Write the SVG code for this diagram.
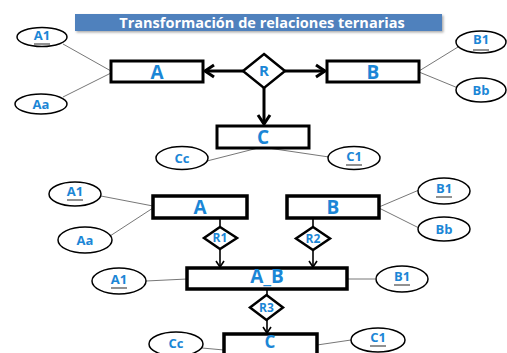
<svg xmlns="http://www.w3.org/2000/svg" width="507" height="353" viewBox="0 0 507 353">
<defs>
<marker id="big" markerUnits="userSpaceOnUse" markerWidth="14" markerHeight="16" refX="11" refY="8" orient="auto">
<path d="M2,2 L11,8 L2,14" fill="none" stroke="#000" stroke-width="3" stroke-linejoin="miter"/>
</marker>
<marker id="small" markerUnits="userSpaceOnUse" markerWidth="10" markerHeight="10" refX="7" refY="5" orient="auto">
<path d="M1,1 L7,5 L1,9" fill="none" stroke="#000" stroke-width="1.6"/>
</marker>
<filter id="sh" x="-5%" y="-20%" width="110%" height="160%"><feDropShadow dx="1.5" dy="1.5" stdDeviation="1" flood-color="#888" flood-opacity="0.7"/></filter>
</defs>
<style>
.ent{fill:#fff;stroke:#000;stroke-width:3}
.ent2{fill:#fff;stroke:#000;stroke-width:3.5}
.rel{fill:#fff;stroke:#000;stroke-width:2.5;stroke-linejoin:miter}
.att{fill:#fff;stroke:#000;stroke-width:1.5}
.lnk{stroke:#777;stroke-width:1;fill:none}
.arw{stroke:#000;stroke-width:3;fill:none}
.arw2{stroke:#000;stroke-width:1.6;fill:none}
.t{font-family:"Open Sans","DejaVu Sans",sans-serif;font-weight:bold;fill:#1b86d6;text-anchor:middle;dominant-baseline:central}
.te{font-size:19px}
.ta{font-size:13px}
.tr{font-size:12px}
.ul{stroke:#555;stroke-width:1.3}
</style>
<rect width="507" height="353" fill="#fff"/>
<g id="title">
<rect x="75" y="14" width="367" height="17" fill="#4f81bd" filter="url(#sh)"/>
<text x="262" y="22" font-family="'Open Sans','DejaVu Sans',sans-serif" font-weight="bold" font-size="14.5" fill="#fff" text-anchor="middle" dominant-baseline="central">Transformación de relaciones ternarias</text>
</g>
<g id="connectors">
<line class="lnk" x1="63" y1="44" x2="111" y2="71"/>
<line class="lnk" x1="63" y1="97" x2="111" y2="73"/>
<line class="lnk" x1="419" y1="71" x2="458" y2="47"/>
<line class="lnk" x1="419" y1="72" x2="458" y2="88"/>
<line class="lnk" x1="207" y1="161" x2="258" y2="148"/>
<line class="lnk" x1="329" y1="157" x2="268" y2="148"/>
<line class="arw" x1="243" y1="71" x2="205" y2="71" marker-end="url(#big)"/>
<line class="arw" x1="285" y1="71" x2="325" y2="71" marker-end="url(#big)"/>
<line class="arw" x1="264" y1="88" x2="264" y2="124" marker-end="url(#big)"/>
<line class="lnk" x1="101" y1="196" x2="153" y2="206"/>
<line class="lnk" x1="110" y1="236" x2="153" y2="208"/>
<line class="lnk" x1="379" y1="207" x2="419" y2="190"/>
<line class="lnk" x1="379" y1="208" x2="419" y2="228"/>
<line class="lnk" x1="146" y1="281" x2="187" y2="279"/>
<line class="lnk" x1="347" y1="279" x2="375" y2="279"/>
<line class="lnk" x1="202" y1="348" x2="224" y2="350"/>
<line class="lnk" x1="317" y1="345" x2="351" y2="340"/>
<line class="arw2" x1="220" y1="218" x2="220" y2="227"/>
<line class="arw2" x1="220" y1="249" x2="220" y2="267" marker-end="url(#small)"/>
<line class="arw2" x1="313" y1="218" x2="313" y2="227"/>
<line class="arw2" x1="313" y1="250" x2="313" y2="267" marker-end="url(#small)"/>
<line class="arw2" x1="267" y1="289" x2="267" y2="295"/>
<line class="arw2" x1="267" y1="320" x2="267" y2="333" marker-end="url(#small)"/>
</g>
<g id="A"><rect class="ent" x="111" y="61" width="92" height="21"/><text class="t te" x="157" y="72">A</text></g>
<g id="B"><rect class="ent" x="327" y="61" width="92" height="21"/><text class="t te" x="373" y="72">B</text></g>
<g id="C"><rect class="ent" x="217" y="126" width="92" height="22"/><text class="t te" x="263" y="137">C</text></g>
<g id="R"><polygon class="rel" points="264,54 285,71 264,88 243,71"/><text class="t" font-size="15" x="264" y="70">R</text></g>
<g id="A1a"><ellipse class="att" cx="42" cy="37" rx="25" ry="9.5"/><text class="t ta" x="42" y="35">A1</text><line class="ul" x1="34" y1="44" x2="50" y2="44"/></g>
<g id="Aaa"><ellipse class="att" cx="41" cy="104" rx="26" ry="10"/><text class="t ta" x="41" y="104">Aa</text></g>
<g id="B1a"><ellipse class="att" cx="481" cy="42" rx="25" ry="11"/><text class="t ta" x="481" y="39">B1</text><line class="ul" x1="473" y1="50" x2="489" y2="50"/></g>
<g id="Bba"><ellipse class="att" cx="481" cy="90" rx="25" ry="12"/><text class="t ta" x="481" y="90">Bb</text></g>
<g id="Cca"><ellipse class="att" cx="182" cy="158" rx="26" ry="11.5"/><text class="t ta" x="182" y="158">Cc</text></g>
<g id="C1a"><ellipse class="att" cx="354" cy="158" rx="26" ry="11.5"/><text class="t ta" x="354" y="156">C1</text><line class="ul" x1="346" y1="165" x2="362" y2="165"/></g>
<g id="A2"><rect class="ent2" x="153" y="196" width="94" height="22"/><text class="t te" x="200" y="207">A</text></g>
<g id="B2"><rect class="ent2" x="287" y="196" width="92" height="22"/><text class="t te" x="333" y="207">B</text></g>
<g id="R1"><polygon class="rel" points="220,227 237,238 220,249 204,238"/><text class="t tr" x="220" y="237">R1</text></g>
<g id="R2"><polygon class="rel" points="313,227 330,238.5 313,250 296,238.5"/><text class="t tr" x="313" y="238">R2</text></g>
<g id="AB"><rect class="ent2" x="187" y="268" width="160" height="21"/><text class="t te" x="267" y="276">A_B</text></g>
<g id="R3"><polygon class="rel" points="266.5,295 283,307.5 266.5,320 250,307.5"/><text class="t tr" x="266.5" y="307">R3</text></g>
<g id="C2"><rect class="ent2" x="224" y="334" width="93" height="24"/><text class="t" font-size="17" x="270" y="341.5">C</text></g>
<g id="A1b"><ellipse class="att" cx="75" cy="194" rx="26" ry="12"/><text class="t ta" x="75" y="191">A1</text><line class="ul" x1="67" y1="200" x2="83" y2="200"/></g>
<g id="Aab"><ellipse class="att" cx="85" cy="240" rx="27" ry="13"/><text class="t ta" x="85" y="240">Aa</text></g>
<g id="A1c"><ellipse class="att" cx="119" cy="281" rx="27" ry="13"/><text class="t ta" x="119" y="279">A1</text><line class="ul" x1="111" y1="288" x2="127" y2="288"/></g>
<g id="Ccb"><ellipse class="att" cx="176" cy="344" rx="27" ry="12"/><text class="t ta" x="176" y="343">Cc</text></g>
<g id="B1b"><ellipse class="att" cx="444" cy="191" rx="26" ry="13"/><text class="t ta" x="444" y="188">B1</text><line class="ul" x1="436" y1="197" x2="452" y2="197"/></g>
<g id="Bbb"><ellipse class="att" cx="444" cy="229" rx="26" ry="12"/><text class="t ta" x="444" y="229">Bb</text></g>
<g id="B1c"><ellipse class="att" cx="402" cy="279" rx="26" ry="13"/><text class="t ta" x="402" y="276">B1</text><line class="ul" x1="394" y1="285" x2="410" y2="285"/></g>
<g id="C1b"><ellipse class="att" cx="378" cy="340" rx="27" ry="12"/><text class="t ta" x="378" y="337">C1</text><line class="ul" x1="370" y1="346" x2="386" y2="346"/></g>
</svg>
